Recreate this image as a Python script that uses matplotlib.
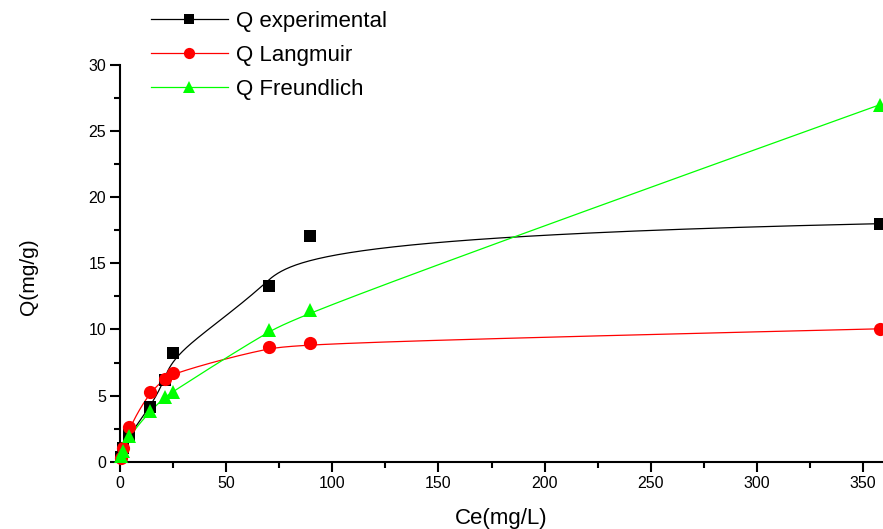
import numpy as np
import matplotlib
matplotlib.use("Agg")
import matplotlib.pyplot as plt
from matplotlib.ticker import MultipleLocator

plt.rcParams["font.family"] = ["Liberation Sans", "DejaVu Sans"]

# Equilibrium concentration and adsorbed amount
ce = [0.4, 1.2, 4.2, 14.1, 21.2, 25.0, 70.3, 89.5, 358.0]
q_exp = [0.35, 1.0, 2.0, 4.1, 6.2, 8.2, 13.3, 17.05, 18.0]
q_lang = [0.3, 1.0, 2.6, 5.3, 6.25, 6.7, 8.7, 9.0, 10.05]
q_freund = [0.45, 0.8, 1.95, 3.8, 4.9, 5.3, 9.95, 11.5, 27.0]


def bspline(xs, ys, k=3, num=600):
    """Clamped uniform B-spline using the points as control points."""
    pts = np.column_stack([xs, ys])
    n = len(pts)
    knots = np.r_[np.zeros(k + 1), np.arange(1, n - k), np.full(k + 1, n - k)]
    t = np.linspace(0, n - k, num)
    nb = len(knots) - 1
    B = np.zeros((num, nb))
    for i in range(nb):
        B[:, i] = (knots[i] <= t) & (t < knots[i + 1])
    B[t == knots[-1], n - 1] = 1.0
    for p in range(1, k + 1):
        nb_new = nb - p
        Bn = np.zeros((num, nb_new))
        for i in range(nb_new):
            d1 = knots[i + p] - knots[i]
            d2 = knots[i + p + 1] - knots[i + 1]
            if d1 > 0:
                Bn[:, i] += (t - knots[i]) / d1 * B[:, i]
            if d2 > 0:
                Bn[:, i] += (knots[i + p + 1] - t) / d2 * B[:, i + 1]
        B = Bn
    curve = B @ pts
    return curve[:, 0], curve[:, 1]


W, H = 883, 529
fig = plt.figure(figsize=(W / 100, H / 100), dpi=100)
ax = fig.add_axes([120 / W, 67.3 / H, 763 / W, 396.7 / H])

series = [
    (q_exp, "black", "s", 9.0, "Q experimental"),
    (q_lang, "#FF0000", "o", 9.5, "Q Langmuir"),
    (q_freund, "#00FF00", "^", 10.0, "Q Freundlich"),
]
handles = []
for ys, color, marker, ms, label in series:
    cx, cy = bspline(ce, ys)
    ax.plot(cx, cy, color=color, lw=0.9, zorder=2)
    ax.plot(ce, ys, linestyle="none", marker=marker, markersize=ms,
            color=color, markeredgewidth=0, zorder=3, clip_on=False)
    h, = ax.plot([], [], color=color, lw=0.9, marker=marker,
                 markersize=ms * 0.85, markeredgewidth=0)
    handles.append((h, label))

ax.set_xlim(0, 359.4)
ax.set_ylim(0, 30)
ax.xaxis.set_major_locator(MultipleLocator(50))
ax.xaxis.set_minor_locator(MultipleLocator(25))
ax.yaxis.set_major_locator(MultipleLocator(5))
ax.yaxis.set_minor_locator(MultipleLocator(2.5))

for side in ["top", "right"]:
    ax.spines[side].set_visible(False)
for side in ["left", "bottom"]:
    ax.spines[side].set_linewidth(1.5)

ax.tick_params(which="major", direction="out", length=7, width=1.5,
               labelsize=11.5, pad=3)
ax.tick_params(which="minor", direction="out", length=4.5, width=1.5)

ax.set_xlabel("Ce(mg/L)", fontsize=16)
ax.xaxis.set_label_coords(0.5, -0.117)
ax.set_ylabel("Q(mg/g)", fontsize=15)
ax.yaxis.set_label_coords(-0.108, 0.466)

fig.legend([h for h, _ in handles], [l for _, l in handles],
           loc="upper left", bbox_to_anchor=(142 / W, 1 - 2 / H),
           frameon=False, fontsize=16, handlelength=3.45,
           handletextpad=0.4, labelspacing=0.59, borderaxespad=0)

fig.savefig("out.png", dpi=100, facecolor="white")
